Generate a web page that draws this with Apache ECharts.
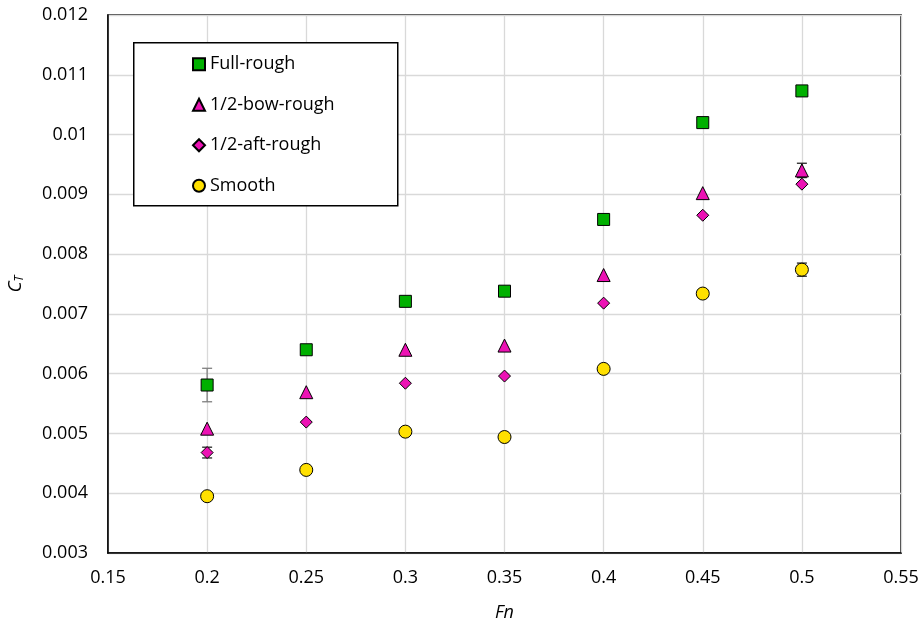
<!DOCTYPE html>
<html><head><meta charset="utf-8">
<script src="https://cdn.jsdelivr.net/npm/echarts@6/dist/echarts.min.js"></script>
<style>html,body{margin:0;padding:0;background:#fff}#c{width:921px;height:626px}</style>
</head><body><div id="c"></div>
<script>
const fn = [0.2, 0.25, 0.3, 0.35, 0.4, 0.45, 0.5];
const fullRough = [0.00581, 0.0064, 0.00721, 0.00738, 0.00858, 0.0102, 0.01073];
const bowRough  = [0.00508, 0.00569, 0.0064, 0.00647, 0.00765, 0.00902, 0.0094];
const aftRough  = [0.00468, 0.00519, 0.00584, 0.00596, 0.00718, 0.00865, 0.00917];
const smooth    = [0.00395, 0.00439, 0.00503, 0.00494, 0.00608, 0.00734, 0.00774];
const errFull   = [0.00028, 0, 0, 0, 0, 0, 0];
const errBow    = [0, 0, 0, 0, 0, 0, 0.00012];
const errAft    = [0.00009, 0, 0, 0, 0, 0, 0];
const errSmooth = [0, 0, 0, 0, 0, 0, 0.00011];
const xTicks = { min: 0.15, max: 0.55, interval: 0.05 };
const yTicks = { min: 0.003, max: 0.012, interval: 0.001 };

const FONT = 'Open Sans';
const pairs = (ys) => fn.map((x, i) => [x, ys[i]]);
const errData = [];
[[fullRough, errFull, '#7f7f7f'], [bowRough, errBow, '#262626'], [aftRough, errAft, '#262626'], [smooth, errSmooth, '#262626']]
  .forEach(([ys, es, col]) => fn.forEach((x, i) => { if (es[i] > 0) errData.push([x, ys[i], es[i], col]); }));

const chart = echarts.init(document.getElementById('c'), null, { renderer: 'canvas' });
const sym = (name, symbol, size, color, data) => ({
  name, type: 'scatter', symbol, symbolSize: size, data: pairs(data), z: 3,
  itemStyle: { color, borderColor: '#000', borderWidth: 1, opacity: 1 },
  emphasis: { disabled: true }
});
chart.setOption({
  animation: false,
  backgroundColor: '#fff',
  grid: { left: 108, right: 20, top: 15, bottom: 73, show: true, borderColor: '#000', borderWidth: 1.5, outerBoundsMode: 'none', containLabel: false },
  graphic: [{ type: 'rect', left: 133, top: 42, shape: { width: 264, height: 163 }, style: { fill: '#fff', stroke: '#000', lineWidth: 1.5 }, z: 4 }],
  legend: {
    orient: 'vertical', left: 187, top: 47, itemWidth: 12, itemHeight: 12, itemGap: 16, z: 5,
    textStyle: { fontFamily: FONT, fontSize: 18, color: '#000', lineHeight: 24.5, padding: [0, 0, 0, 0] },
    data: ['Full-rough', '1/2-bow-rough', '1/2-aft-rough', 'Smooth']
  },
  xAxis: {
    type: 'value', min: xTicks.min, max: xTicks.max, interval: xTicks.interval,
    name: 'Fn', nameLocation: 'middle', nameGap: 51,
    nameTextStyle: { fontFamily: FONT, fontSize: 18, fontStyle: 'italic', color: '#000' },
    axisLine: { show: true, lineStyle: { color: '#000', width: 1.5 } },
    axisTick: { show: false },
    axisLabel: { fontFamily: FONT, fontSize: 18, color: '#000', margin: 16, formatter: v => String(parseFloat(v.toFixed(2))) },
    splitLine: { show: true, lineStyle: { color: '#d9d9d9', width: 1.3 } }
  },
  yAxis: {
    type: 'value', min: yTicks.min, max: yTicks.max, interval: yTicks.interval,
    name: '{c|C}{t|T}', nameLocation: 'middle', nameGap: 82, nameRotate: 90,
    nameTextStyle: { fontFamily: FONT, color: '#000', rich: {
      c: { fontFamily: FONT, fontSize: 19, fontStyle: 'italic', color: '#000' },
      t: { fontFamily: FONT, fontSize: 12, fontStyle: 'italic', color: '#000', padding: [9, 0, 0, 0] } } },
    axisLine: { show: true, lineStyle: { color: '#000', width: 1.5 } },
    axisTick: { show: false },
    axisLabel: { fontFamily: FONT, fontSize: 18, color: '#000', margin: 20, formatter: v => String(parseFloat(v.toFixed(3))) },
    splitLine: { show: true, lineStyle: { color: '#d9d9d9', width: 1.3 } }
  },
  series: [
    {
      type: 'custom', z: 2, silent: true, data: errData,
      renderItem: (params, api) => {
        const x = api.value(0), y = api.value(1), e = api.value(2);
        const col = errData[params.dataIndex][3];
        const hi = api.coord([x, y + e]), lo = api.coord([x, y - e]);
        const w = 5;
        const st = { stroke: col, lineWidth: 1.3 };
        return { type: 'group', children: [
          { type: 'line', shape: { x1: hi[0], y1: hi[1], x2: lo[0], y2: lo[1] }, style: st },
          { type: 'line', shape: { x1: hi[0] - w, y1: hi[1], x2: hi[0] + w, y2: hi[1] }, style: st },
          { type: 'line', shape: { x1: lo[0] - w, y1: lo[1], x2: lo[0] + w, y2: lo[1] }, style: st }
        ] };
      },
      encode: { x: 0, y: 1 }
    },
    sym('Full-rough', 'rect', 12, '#00b000', fullRough),
    sym('1/2-bow-rough', 'triangle', 13, '#ec12b4', bowRough),
    sym('1/2-aft-rough', 'diamond', 12, '#ec12b4', aftRough),
    sym('Smooth', 'circle', 13, '#ffe000', smooth)
  ]
});
</script></body></html>
